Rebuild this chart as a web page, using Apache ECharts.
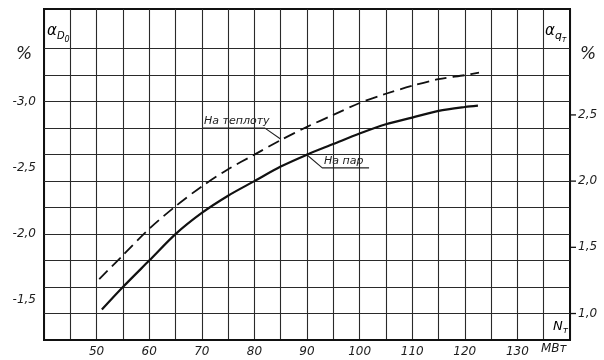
<!DOCTYPE html>
<html>
<head>
<meta charset="utf-8">
<script src="https://cdn.jsdelivr.net/npm/echarts@6/dist/echarts.min.js"></script>
<style>html,body{margin:0;padding:0;background:#fff;}#c{width:604px;height:360px;}</style>
</head>
<body>
<div id="c"></div>
<script>
// Data
var powerSteam = [51, 55, 60, 65, 70, 75, 80, 85, 90, 95, 100, 105, 110, 115, 120, 122.5];
var alphaD0 = [-1.43, -1.60, -1.80, -2.00, -2.16, -2.29, -2.40, -2.51, -2.60, -2.68, -2.76, -2.83, -2.88, -2.93, -2.96, -2.97];
var powerHeat = [50.5, 55, 60, 65, 70, 75, 80, 85, 90, 95, 100, 105, 110, 115, 120, 122.7];
var alphaQT = [1.26, 1.44, 1.64, 1.81, 1.96, 2.09, 2.20, 2.31, 2.41, 2.50, 2.59, 2.66, 2.72, 2.77, 2.80, 2.82];
var xTickLabels = [50, 60, 70, 80, 90, 100, 110, 120, 130];
var leftTickLabels = [-3.0, -2.5, -2.0, -1.5];
var rightTickLabels = [1.0, 1.5, 2.0, 2.5];
var hGridLeft = [-1.4, -1.6, -1.8, -2.0, -2.2, -2.4, -2.6, -2.8, -3.0, -3.2, -3.4];
// annotation leader lines (data coordinates, left axis)
var leaderHeatX = [70.2, 82.0, 84.9];
var leaderHeatY = [-2.80, -2.80, -2.72];
var leaderSteamX = [89.8, 92.9, 101.8];
var leaderSteamY = [-2.605, -2.50, -2.50];

function zip(a, b) { return a.map(function (v, i) { return [v, b[i]]; }); }
function fmt(v) { return (v < 0 ? '-' : '') + Math.abs(v).toFixed(1).replace('.', ','); }
var FONT = 'DejaVu Sans';
var INK = '#1c1c1c';

var chart = echarts.init(document.getElementById('c'), null, { renderer: 'canvas' });
chart.setOption({
  backgroundColor: '#ffffff',
  animation: false,
  grid: { left: 44, right: 34, top: 9, bottom: 20, show: true, borderColor: '#111', borderWidth: 2 },
  xAxis: {
    type: 'value', min: 40, max: 140, interval: 5,
    axisLine: { show: true, lineStyle: { color: '#111', width: 2 } },
    axisTick: { show: false },
    axisLabel: {
      margin: 6, color: INK, fontFamily: FONT, fontStyle: 'italic', fontSize: 12,
      formatter: function (v) { var r = Math.round(v); return xTickLabels.indexOf(r) >= 0 ? String(r) : ''; }
    },
    splitLine: { show: true, lineStyle: { color: '#2a2a2a', width: 1.1 } }
  },
  yAxis: [{
    type: 'value', inverse: true, min: -3.7, max: -1.2, interval: 0.1, position: 'left',
    axisLine: { show: true, lineStyle: { color: '#111', width: 2 } },
    axisTick: { show: false },
    splitLine: { show: false },
    axisLabel: {
      margin: 8, color: INK, fontFamily: FONT, fontStyle: 'italic', fontSize: 12,
      formatter: function (v) { var r = Math.round(v * 10) / 10; return leftTickLabels.indexOf(r) >= 0 ? fmt(r) : ''; }
    }
  }, {
    type: 'value', min: 0.8, max: 3.3, interval: 0.1, position: 'right',
    axisLine: { show: true, lineStyle: { color: '#111', width: 2 } },
    axisTick: { show: false },
    splitLine: { show: false },
    axisLabel: {
      margin: 0, color: INK, fontFamily: FONT, fontStyle: 'italic', fontSize: 12,
      formatter: function (v) { var r = Math.round(v * 10) / 10; return rightTickLabels.indexOf(r) >= 0 ? '{t|}{g|}' + fmt(r) : ''; },
      rich: {
        t: { width: 6, height: 1.3, backgroundColor: '#111' },
        g: { width: 2, height: 1 }
      }
    }
  }],
  series: [{
    name: 'На пар', type: 'line', yAxisIndex: 0, smooth: 0.3, symbol: 'none',
    data: zip(powerSteam, alphaD0),
    lineStyle: { color: '#111', width: 2.2 },
    markLine: {
      silent: true, symbol: 'none', label: { show: false },
      lineStyle: { color: '#2a2a2a', width: 1.1, type: 'solid' },
      data: hGridLeft.map(function (v) { return { yAxis: v }; })
    },
    z: 5
  }, {
    name: 'На теплоту', type: 'line', yAxisIndex: 1, smooth: 0.3, symbol: 'none',
    data: zip(powerHeat, alphaQT),
    lineStyle: { color: '#111', width: 1.8, type: [12, 6] },
    z: 5
  }, {
    type: 'line', yAxisIndex: 0, symbol: 'none', silent: true,
    data: zip(leaderHeatX, leaderHeatY),
    lineStyle: { color: '#222', width: 1.1 }
  }, {
    type: 'line', yAxisIndex: 0, symbol: 'none', silent: true,
    data: zip(leaderSteamX, leaderSteamY),
    lineStyle: { color: '#222', width: 1.1 }
  }],
  graphic: [
    { type: 'text', left: 16, top: 46, style: { text: '%', font: 'italic 17px "DejaVu Sans"', fill: INK } },
    { type: 'text', left: 580, top: 46, style: { text: '%', font: 'italic 17px "DejaVu Sans"', fill: INK } },
    { type: 'text', left: 47, top: 24, style: {
      text: '{a|α}{s|D}{ss|0}', rich: {
        a: { fontFamily: FONT, fontStyle: 'italic', fontSize: 15, color: INK },
        s: { fontFamily: FONT, fontStyle: 'italic', fontSize: 10, color: INK, padding: [10, 0, 0, 0] },
        ss: { fontFamily: FONT, fontStyle: 'italic', fontSize: 8, color: INK, padding: [16, 0, 0, 0] }
      } } },
    { type: 'text', left: 545, top: 24, style: {
      text: '{a|α}{s|q}{ss|т}', rich: {
        a: { fontFamily: FONT, fontStyle: 'italic', fontSize: 15, color: INK },
        s: { fontFamily: FONT, fontStyle: 'italic', fontSize: 11, color: INK, padding: [10, 0, 0, 0] },
        ss: { fontFamily: FONT, fontStyle: 'italic', fontSize: 8, color: INK, padding: [16, 0, 0, 0] }
      } } },
    { type: 'text', left: 553, top: 320, style: {
      text: '{a|N}{s|т}', rich: {
        a: { fontFamily: FONT, fontStyle: 'italic', fontSize: 13, color: INK },
        s: { fontFamily: FONT, fontStyle: 'italic', fontSize: 9, color: INK, padding: [8, 0, 0, 0] }
      } } },
    { type: 'text', left: 541, top: 343, style: { text: 'МВт', font: 'italic 12px "DejaVu Sans"', fill: INK } },
    { type: 'text', left: 204, top: 116, style: { text: 'На теплоту', font: 'italic 11px "DejaVu Sans"', fill: INK } },
    { type: 'text', left: 324, top: 156, style: { text: 'На пар', font: 'italic 11px "DejaVu Sans"', fill: INK } }
  ]
});
</script>
</body>
</html>
